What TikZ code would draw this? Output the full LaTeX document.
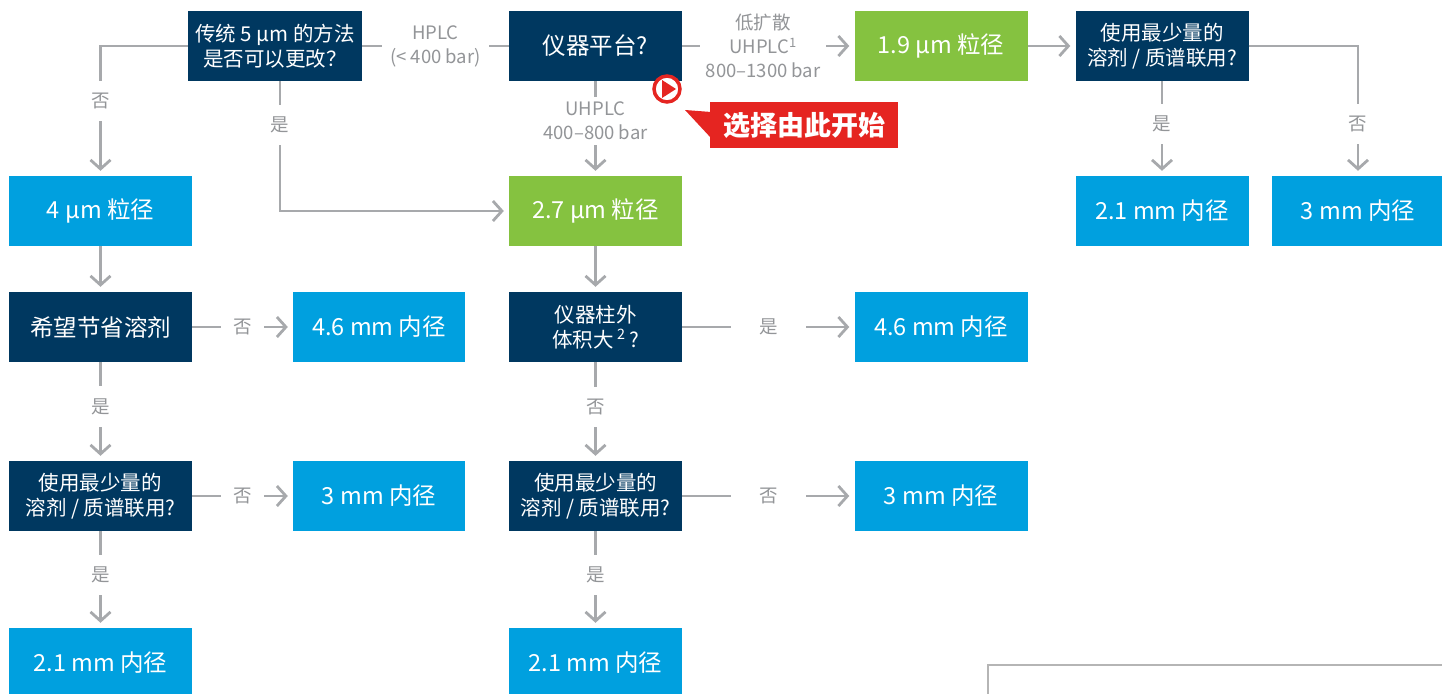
\documentclass[tikz,border=0pt]{standalone}
\usepackage{fontspec}
\setmainfont{Noto Sans CJK SC}
\usetikzlibrary{arrows.meta}
\definecolor{boxnavy}{HTML}{003860}
\definecolor{boxblue}{HTML}{00A0DF}
\definecolor{boxgreen}{HTML}{85C240}
\definecolor{startred}{HTML}{E52521}
\definecolor{linegray}{HTML}{A7A9AC}
\definecolor{labelgray}{HTML}{939598}
\definecolor{framegray}{HTML}{B5B5B5}
\begin{document}
\begin{tikzpicture}[x=1pt,y=-1pt,
   box/.style={minimum width=173pt, minimum height=70pt, inner sep=0pt,
               text=white, align=center, font=\fontsize{23.5}{27}\selectfont},
   wide/.style={minimum width=183pt},
   twoline/.style={font=\fontsize{20.5}{25}\selectfont},
   ask/.style={box, fill=boxnavy},
   size/.style={box, fill=boxblue},
   grain/.style={box, fill=boxgreen},
   plain/.style={draw=linegray, line width=2.8pt},
   conn/.style={plain, -{Straight Barb[length=9pt,width=20pt]}, shorten >=5pt},
   lbl/.style={fill=white, text=labelgray, inner sep=12pt, align=center,
               font=\fontsize{18.5}{24}\selectfont}]

\useasboundingbox (0,0) rectangle (1442,693);

% top row
\node[ask, twoline, minimum width=174pt] (old) at (275,46) {传统 5 μm 的方法\\是否可以更改？};
\node[ask] (plat) at (595.5,46) {仪器平台?};
\node[grain] (p19) at (941,46) {1.9 μm 粒径};
\node[ask, twoline] (msR) at (1162,46) {使用最少量的\\溶剂 / 质谱联用?};
\node[size] (r21) at (1162,211) {2.1 mm 内径};
\node[size] (r3) at (1358,211) {3 mm 内径};

% particle sizes
\node[size, wide] (p4) at (100.5,211) {4 μm 粒径};
\node[grain] (p27) at (595.5,211) {2.7 μm 粒径};

% left column
\node[ask, wide] (save) at (100.5,327) {希望节省溶剂};
\node[size, minimum width=172pt] (a46) at (379,327) {4.6 mm 内径};
\node[ask, wide, twoline] (msA) at (100.5,496) {使用最少量的\\溶剂 / 质谱联用?};
\node[size, minimum width=172pt] (a3) at (379,496) {3 mm 内径};
\node[size, wide] (a21) at (100.5,663) {2.1 mm 内径};

% middle column
\node[ask, twoline] (ecv) at (595.5,327) {仪器柱外\\体积大\,\textsuperscript{2}\,?};
\node[size] (c46) at (941,327) {4.6 mm 内径};
\node[ask, twoline] (msC) at (595.5,496) {使用最少量的\\溶剂 / 质谱联用?};
\node[size] (c3) at (941,496) {3 mm 内径};
\node[size] (c21) at (595.5,663) {2.1 mm 内径};

% connectors
\draw[conn] (old.west) -| node[lbl, pos=0.71]{否} (p4.north);
\draw[conn] ([xshift=5pt]old.south) |- node[lbl, pos=0.17]{是} (p27.west);
\draw[plain] (plat.west) -- node[lbl, inner sep=8pt]{HPLC\\(< 400 bar)} (old.east);
\draw[conn] (plat.south) -- node[lbl, inner sep=5pt, pos=0.42]{UHPLC\\400–800 bar} (p27.north);
\draw[conn] (plat.east) -- node[lbl, inner sep=6pt, pos=0.47]{低扩散\\UHPLC\textsuperscript{1}\\800–1300 bar} (p19.west);
\draw[conn] (p19) -- (msR);
\draw[conn] (msR.south) -- node[lbl, pos=0.45]{是} (r21.north);
\draw[conn] (msR.east) -| node[lbl, pos=0.8]{否} (r3.north);

\draw[conn] (p4) -- (save);
\draw[conn] (save) -- node[lbl]{否} (a46);
\draw[conn] (save) -- node[lbl, pos=0.45]{是} (msA);
\draw[conn] (msA) -- node[lbl]{否} (a3);
\draw[conn] (msA) -- node[lbl, pos=0.45]{是} (a21);

\draw[conn] (p27) -- (ecv);
\draw[conn] (ecv) -- node[lbl, inner xsep=28pt]{是} (c46);
\draw[conn] (ecv) -- node[lbl, pos=0.45]{否} (msC);
\draw[conn] (msC) -- node[lbl, inner xsep=28pt]{否} (c3);
\draw[conn] (msC) -- node[lbl, pos=0.45]{是} (c21);

% start marker
\draw[startred, line width=3.5pt, fill=white] (667,89) circle (13pt);
\fill[startred] (662,80) -- (662,98) -- (676,89) -- cycle;
\node[fill=startred, text=white, minimum width=188pt, minimum height=46pt,
      font=\bfseries\fontsize{27}{30}\selectfont] (start) at (804,125) {选择由此开始};
\fill[startred] (685,110) -- (711,112) -- (711,138) -- cycle;

% frame at bottom right
\draw[framegray, line width=2pt] (988,665) rectangle (1470,720);
\end{tikzpicture}
\end{document}
